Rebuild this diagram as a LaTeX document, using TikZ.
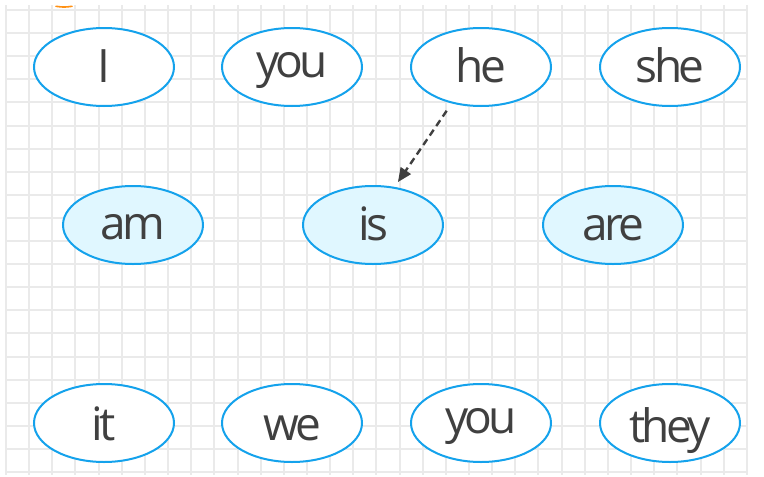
\documentclass[tikz,border=0pt]{standalone}
\usepackage{fontspec}
\setmainfont{Open Sans}[LetterSpace=-8]
\usetikzlibrary{arrows.meta,shapes.geometric}
\definecolor{gridc}{RGB}{234,234,234}
\definecolor{edgec}{RGB}{20,162,236}
\definecolor{fillc}{RGB}{224,247,255}
\definecolor{textc}{RGB}{64,64,64}
\definecolor{orangec}{RGB}{255,145,20}
\newcommand{\wordlow}[2]{\raisebox{-#1pt}{#2}}
\tikzset{
  word/.style={ellipse, draw=edgec, line width=2pt, fill=white,
    minimum width=140pt, minimum height=78pt, inner sep=0pt,
    text height=0pt, text depth=0pt,
    text=textc, font=\fontsize{46}{50}\selectfont},
  verb/.style={word, fill=fillc},
  gridline/.style={draw=gridc, line width=2pt},
  link/.style={draw=textc, line width=2.4pt, dash pattern=on 7pt off 4.5pt,
    -{Triangle[length=14pt,width=12pt]}}
}
\begin{document}
\begin{tikzpicture}[x=1pt,y=-1pt]
\useasboundingbox (0,0) rectangle (764,477);
\fill[white] (0,0) rectangle (764,477);
% grid
\foreach \i in {0,...,32} {
  \draw[gridline] ({6+23.15*\i},5) -- ({6+23.15*\i},475);
}
\foreach \j in {0,...,20} {
  \draw[gridline] (5,{10+23.1*\j}) -- (748,{10+23.1*\j});
}
% stray orange fragment
\draw[orangec, line width=1.6pt, line cap=round] (56,6.3) .. controls (64,7.3) .. (72,6.3);
% row 1
\node[word] (I)    at (104,67) {\wordlow{15}{I}};
\node[word] (you1) at (292,67) {\wordlow{10}{you}};
\node[word] (he)   at (481,67) {\wordlow{15}{he}};
\node[word] (she)  at (670,67) {\wordlow{15}{she}};
% row 2
\node[verb] (am)  at (133,225) {\wordlow{14}{am}};
\node[verb] (is)  at (373,225) {\wordlow{15}{is}};
\node[verb] (are) at (613,225) {\wordlow{15}{are}};
% row 3
\node[word] (it)   at (104,423) {\wordlow{17}{it}};
\node[word] (we)   at (292,423) {\wordlow{17}{we}};
\node[word] (you2) at (481,423) {\wordlow{10}{you}};
\node[word] (they) at (670,423) {\wordlow{19}{they}};
% arrow
\draw[link, shorten <=53pt, shorten >=52pt]
  ([xshift=-4.4pt]he.center) -- ([xshift=-4.4pt]is.center);
\end{tikzpicture}
\end{document}
